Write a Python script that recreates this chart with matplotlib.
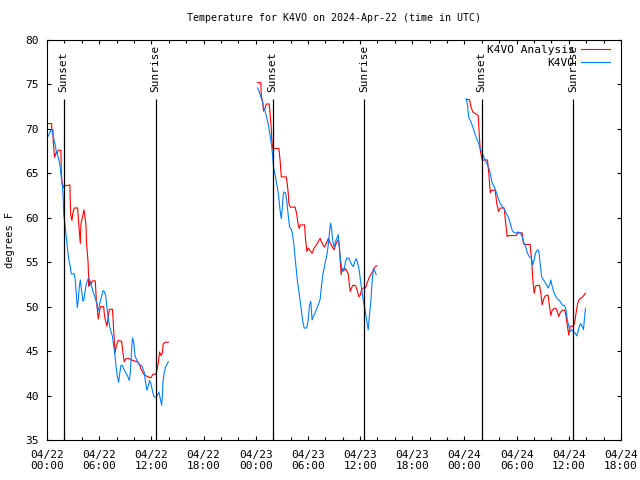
import numpy as np
import matplotlib
matplotlib.use('Agg')
import matplotlib.pyplot as plt
import matplotlib.dates as mdates

plt.rcParams['font.family'] = 'DejaVu Sans Mono'
plt.rcParams['font.size'] = 8

START = np.datetime64('2024-04-22T00:00')

# hours since 04/22 00:00 UTC, temperatures in F
analysis_hours_1 = [0.07, 0.53, 0.55, 0.68, 0.72, 0.87, 1.03, 1.14, 1.30, 1.60, 1.64, 1.72, 1.91, 2.06,
                    2.64, 2.71, 2.87, 2.98, 3.14, 3.52, 3.67, 3.83, 3.90, 4.13, 4.25, 4.36, 4.48, 4.55,
                    4.71, 4.82, 4.90, 5.05, 5.21, 5.55, 5.67, 5.78, 5.90, 6.01, 6.13, 6.51, 6.62, 6.78,
                    6.89, 7.05, 7.16, 7.54, 7.66, 7.81, 7.93, 8.08, 8.20, 8.58, 8.73, 8.89, 9.04, 9.35,
                    9.73, 10.04, 10.42, 10.65, 10.80, 11.11, 11.42, 11.65, 11.95, 12.18, 12.49, 12.64,
                    12.80, 12.95, 13.10, 13.26, 13.37, 13.56, 13.95]
analysis_temp_1 = [70.6, 70.6, 69.9, 69.9, 68.6, 66.8, 67.3, 67.2, 67.6, 67.6, 65.5, 64.0, 63.4, 63.6,
                   63.7, 60.4, 59.7, 60.6, 61.1, 61.1, 59.1, 57.1, 59.3, 60.3, 60.9, 60.1, 59.1, 57.1,
                   55.1, 52.3, 53.0, 52.5, 52.9, 52.9, 50.8, 49.7, 48.6, 49.3, 50.0, 50.0, 48.9, 48.2,
                   47.8, 48.9, 49.7, 49.7, 47.4, 44.8, 45.4, 45.9, 46.2, 46.1, 44.8, 43.8, 44.1, 44.2,
                   44.0, 43.9, 43.8, 43.5, 43.0, 42.4, 42.2, 42.1, 42.0, 42.4, 42.4, 42.8,
                   43.7, 44.9, 44.5, 44.8, 45.8, 46.0, 46.0]

station_hours_1 = [0.15, 0.34, 0.53, 0.72, 0.91, 1.10, 1.30, 1.49, 1.68, 1.79, 1.87, 1.91, 2.06, 2.22,
                   2.37, 2.52, 2.68, 2.79, 3.14, 3.25, 3.37, 3.48, 3.60, 3.71, 3.83, 3.98, 4.13, 4.25,
                   4.36, 4.52, 4.67, 4.82, 4.98, 5.13, 5.28, 5.44, 5.59, 5.74, 5.86, 5.97, 6.13, 6.28,
                   6.43, 6.59, 6.74, 6.89, 7.05, 7.20, 7.35, 7.51, 7.66, 7.81, 7.97, 8.08, 8.23, 8.35,
                   8.50, 8.66, 8.81, 9.04, 9.27, 9.46, 9.58, 9.73, 9.84, 9.96, 10.11, 10.27, 10.42,
                   10.57, 10.73, 10.88, 11.03, 11.19, 11.34, 11.49, 11.65, 11.80, 11.95, 12.11, 12.26,
                   12.57, 12.72, 12.87, 13.03, 13.18, 13.26, 13.33, 13.49, 13.64, 13.79, 13.95]
station_temp_1 = [69.2, 69.6, 70.0, 69.2, 68.3, 67.3, 66.8, 66.0, 64.2, 63.4, 62.2, 60.4, 59.3, 57.8,
                  56.4, 55.2, 54.5, 53.7, 53.7, 53.0, 51.5, 49.9, 50.8, 52.3, 53.0, 51.7, 50.6, 50.8,
                  51.7, 52.5, 53.0, 53.2, 52.6, 52.3, 51.7, 51.3, 50.8, 50.4, 49.5, 49.9, 50.6, 51.2,
                  51.8, 51.7, 51.3, 50.0, 48.6, 47.8, 47.2, 46.7, 45.6, 44.5, 43.0, 42.2, 41.5, 42.4,
                  43.4, 43.4, 43.0, 42.6, 42.2, 41.7, 42.6, 45.2, 46.5, 46.0, 44.5, 44.1, 43.8,
                  43.5, 43.4, 43.4, 43.0, 42.6, 41.5, 40.6, 41.1, 41.7, 41.3, 40.6, 39.9,
                  39.8, 40.1, 40.4, 39.6, 38.9, 40.0, 41.5, 42.6, 43.2, 43.5, 43.8]

analysis_hours_2 = [24.21, 24.59, 24.63, 24.78, 24.90, 25.09, 25.20, 25.55, 25.66, 25.78, 25.85, 25.97,
                    26.66, 26.81, 26.93, 27.50, 27.62, 27.73, 27.81, 27.96, 28.54, 28.73, 28.88, 29.00,
                    29.11, 29.61, 29.72, 29.88, 30.03, 30.18, 30.34, 30.49, 30.72, 30.95, 31.18, 31.41,
                    31.53, 31.68, 31.87, 32.02, 32.18, 32.37, 32.56, 32.71, 32.87, 33.02, 33.17, 33.33,
                    33.52, 33.63, 33.71, 33.83, 33.94, 34.09, 34.29, 34.48, 34.63, 34.74, 34.86, 35.01,
                    35.17, 35.40, 35.55, 35.70, 35.86, 36.01, 36.16, 36.39, 36.62, 36.78, 37.01, 37.24,
                    37.47, 37.62, 37.77, 37.93]
analysis_temp_2 = [75.2, 75.2, 73.8, 73.1, 72.0, 72.3, 72.8, 72.8, 71.6, 70.1, 68.7, 67.8,
                   67.8, 66.3, 64.6, 64.6, 63.9, 62.8, 61.6, 61.2, 61.2, 60.3, 59.2, 58.8,
                   59.2, 59.2, 57.7, 56.2, 56.6, 56.4, 56.2, 56.0, 56.6, 56.9, 57.3, 57.7,
                   57.3, 57.1, 56.7, 56.9, 57.3, 57.7, 57.1, 56.9, 56.6, 56.4, 56.9, 57.3,
                   57.5, 56.6, 55.1, 53.6, 54.3, 54.0, 54.3, 54.0, 53.7, 52.8, 51.7, 52.1,
                   52.4, 52.4, 52.2, 51.7, 51.1, 51.3, 51.9, 52.1, 52.1, 52.6, 53.2, 53.6,
                   54.0, 54.3, 54.5, 54.6]

station_hours_2 = [24.21, 24.40, 24.59, 24.78, 24.93, 25.09, 25.28, 25.47, 25.66, 25.82, 25.93, 26.05,
                   26.24, 26.43, 26.62, 26.77, 26.93, 27.04, 27.16, 27.23, 27.43, 27.58, 27.73, 27.89,
                   28.04, 28.19, 28.35, 28.50, 28.65, 28.80, 28.96, 29.11, 29.26, 29.42, 29.57, 29.88,
                   30.03, 30.18, 30.34, 30.49, 30.64, 30.79, 30.95, 31.10, 31.26, 31.41, 31.56, 31.72,
                   31.87, 32.02, 32.18, 32.33, 32.48, 32.60, 32.71, 32.87, 33.02, 33.17, 33.33, 33.48,
                   33.59, 33.71, 33.86, 34.02, 34.17, 34.33, 34.48, 34.71, 34.86, 35.05, 35.24, 35.40,
                   35.55, 35.70, 35.86, 36.01, 36.16, 36.32, 36.47, 36.62, 36.78, 36.93, 37.08, 37.24,
                   37.39, 37.54, 37.70, 37.85]
station_temp_2 = [74.6, 74.2, 73.6, 73.1, 72.3, 72.0, 71.2, 70.4, 69.1, 68.2, 67.1, 65.7,
                  64.8, 63.7, 62.6, 61.1, 59.9, 60.9, 62.6, 62.9, 62.8, 61.8, 60.3, 59.0,
                  58.8, 58.4, 57.3, 55.8, 54.3, 52.8, 51.7, 50.6, 49.4, 48.3, 47.6, 47.6,
                  48.5, 50.2, 50.6, 48.5, 48.9, 49.2, 49.6, 50.0, 50.4, 50.9, 52.4, 53.6,
                  54.3, 55.1, 55.8, 56.9, 58.4, 59.4, 58.8, 57.3, 56.7, 57.3, 57.7, 58.1,
                  56.9, 55.6, 54.5, 54.0, 54.3, 55.1, 55.5, 55.4, 55.1, 54.7, 54.5, 55.1,
                  55.4, 55.0, 54.3, 53.2, 52.1, 51.0, 50.2, 49.4, 48.3, 47.4, 49.1, 50.6,
                  52.8, 54.3, 54.0, 53.6]

analysis_hours_3 = [48.20, 48.58, 48.73, 48.96, 49.12, 49.58, 49.65, 49.73, 49.81, 49.92, 50.04, 50.65,
                    50.80, 50.96, 51.11, 51.53, 51.72, 51.91, 52.11, 52.57, 52.72, 52.92, 53.10, 53.94,
                    54.17, 54.63, 54.79, 55.02, 55.55, 55.71, 55.86, 56.01, 56.17, 56.40, 56.63, 56.78,
                    56.93, 57.09, 57.28, 57.62, 57.78, 57.93, 58.08, 58.31, 58.54, 58.69, 58.85, 59.00,
                    59.23, 59.54, 59.69, 59.84, 60.00, 60.15, 60.38, 60.53, 60.68, 60.84, 60.99, 61.14,
                    61.30, 61.60, 61.91]
analysis_temp_3 = [73.3, 73.3, 72.5, 71.9, 71.8, 71.5, 70.3, 68.9, 67.6, 67.1, 66.5, 66.5,
                   65.0, 62.8, 63.1, 63.1, 61.6, 60.7, 61.1, 61.1, 59.6, 57.9, 58.0, 58.0,
                   58.3, 58.3, 57.1, 57.0, 57.0, 55.3, 53.0, 51.5, 52.3, 52.4, 52.4, 51.5,
                   50.2, 50.8, 51.2, 51.3, 50.0, 49.0, 49.6, 49.8, 49.8, 49.4, 48.9, 49.3,
                   49.6, 49.6, 48.9, 47.8, 46.8, 47.8, 47.8, 47.8, 48.3, 49.3, 50.2, 50.7,
                   50.9, 51.1, 51.5]

station_hours_3 = [48.20, 48.35, 48.50, 48.73, 48.96, 49.19, 49.42, 49.65, 49.88, 50.11, 50.34, 50.57,
                   50.80, 50.96, 51.19, 51.42, 51.65, 51.88, 52.11, 52.34, 52.57, 52.80, 53.03, 53.26,
                   53.49, 53.72, 53.94, 54.17, 54.40, 54.63, 54.79, 55.02, 55.25, 55.48, 55.71, 55.86,
                   56.01, 56.17, 56.40, 56.55, 56.70, 56.86, 57.01, 57.24, 57.47, 57.62, 57.78, 57.93,
                   58.08, 58.31, 58.54, 58.77, 59.00, 59.23, 59.54, 59.69, 59.84, 60.00, 60.15, 60.30,
                   60.53, 60.76, 60.92, 61.07, 61.22, 61.37, 61.53, 61.68, 61.80, 61.91]
station_temp_3 = [73.4, 72.7, 71.3, 70.8, 70.2, 69.5, 68.9, 68.3, 67.6, 67.1, 66.6, 66.1,
                  65.6, 65.0, 63.9, 63.5, 62.9, 62.2, 61.6, 61.3, 61.0, 60.5, 60.1, 59.4,
                  58.6, 58.3, 58.3, 58.4, 58.3, 57.9, 57.3, 56.8, 56.0, 55.6, 55.4, 54.7,
                  55.3, 56.0, 56.4, 56.3, 54.9, 53.4, 53.1, 52.8, 52.4, 52.1, 52.4, 53.0,
                  52.3, 51.5, 51.1, 50.8, 50.6, 50.2, 50.1, 49.6, 48.5, 47.8, 47.2, 47.4,
                  47.2, 47.0, 46.7, 47.2, 47.8, 48.1, 47.8, 47.4, 48.7, 49.8]

sunset_times = ['2024-04-22T01:55', '2024-04-23T01:56', '2024-04-24T01:58']
sunrise_times = ['2024-04-22T12:29', '2024-04-23T12:30', '2024-04-24T12:32']


def to_dates(hours):
    minutes = np.round(np.array(hours) * 60).astype(int)
    return START + minutes.astype('timedelta64[m]')


fig = plt.figure(figsize=(6.4, 4.8), dpi=100)
ax = fig.add_axes([47 / 640, 40 / 480, 574 / 640, 400 / 480])

red = '#ff0000'
blue = '#0080ff'
lw = 0.8

segments = [
    (analysis_hours_1, analysis_temp_1, station_hours_1, station_temp_1),
    (analysis_hours_2, analysis_temp_2, station_hours_2, station_temp_2),
    (analysis_hours_3, analysis_temp_3, station_hours_3, station_temp_3),
]
for i, (ah, at, sh, st) in enumerate(segments):
    ax.plot(to_dates(ah), at, color=red, lw=lw,
            label='K4VO Analysis' if i == 0 else None)
    ax.plot(to_dates(sh), st, color=blue, lw=lw,
            label='K4VO' if i == 0 else None)

for t in sunset_times + sunrise_times:
    ax.vlines(np.datetime64(t), 35, 73.4, color='black', lw=0.9)
for label, times in (('Sunset', sunset_times), ('Sunrise', sunrise_times)):
    for t in times:
        ax.text(np.datetime64(t), 74.2, label, rotation=90, ha='center', va='bottom')

ax.set_xlim(START, START + np.timedelta64(66, 'h'))
ax.set_ylim(35, 80)
ax.set_yticks(np.arange(35, 81, 5))
ax.xaxis.set_major_locator(mdates.HourLocator(byhour=[0, 6, 12, 18]))
ax.xaxis.set_minor_locator(mdates.HourLocator(byhour=range(0, 24, 2)))
ax.xaxis.set_major_formatter(mdates.DateFormatter('%m/%d\n%H:%M'))
ax.tick_params(which='both', direction='in', top=True, right=True, width=0.8)
ax.tick_params(which='major', length=3)
ax.tick_params(which='minor', length=2)
ax.tick_params(axis='x', which='major', pad=7)
ax.tick_params(axis='y', pad=6)
for s in ax.spines.values():
    s.set_linewidth(0.8)

ax.set_ylabel('degrees F', fontsize=7.5, labelpad=7)
ax.set_title('Temperature for K4VO on 2024-Apr-22 (time in UTC)', fontsize=7.2, pad=14)

ax.legend(loc='upper right', bbox_to_anchor=(0.981, 0.988), frameon=False,
          markerfirst=False, handlelength=2.6, handletextpad=0.6,
          labelspacing=0.25, borderpad=0, borderaxespad=0)

fig.savefig('out.png', dpi=100)
